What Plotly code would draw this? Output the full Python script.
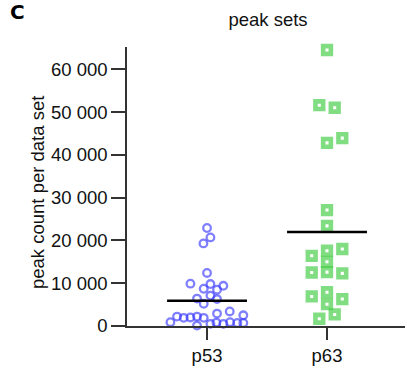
import numpy as np
import plotly.graph_objects as go

# Peak counts per data set for each family of peak sets
categories = ["p53", "p63"]

p53_counts = [22900, 20700, 19300, 12400, 9900, 9800, 9400, 8700, 8500, 7100,
              6400, 6300, 5200, 3400, 2900, 2500, 2200, 1900, 2000, 2200,
              1900, 900, 100, 500, 800, 500, 900, 700, 700]
p63_counts = [64500, 51600, 51000, 43900, 42800, 27100, 23400, 18000, 16400, 17600,
              15000, 12500, 12600, 12300, 7900, 6900, 6300, 5100, 2700, 1700]

y_ticks = [0, 10000, 20000, 30000, 40000, 50000, 60000]
y_tick_labels = ["0", "10 000", "20 000", "30 000", "40 000", "50 000", "60 000"]

# Horizontal swarm offsets (in pixels) so overlapping points spread out
p53_swarm = [0.0, 3.4, -3.6, 0.0, -16.6, 3.4, 16.3, -3.3, 10.0, 3.4,
             -10.0, 10.0, -3.3, 22.7, 10.0, 36.3, -30.0, -23.3, -16.6, -10.0,
             -3.3, -36.6, -10.0, 3.4, 9.4, 16.3, 23.0, 30.3, 36.3]
p63_swarm = [0.0, -7.7, 7.7, 15.3, 0.0, 0.0, 0.0, 15.3, -15.3, 0.0,
             0.0, -15.3, 0.0, 15.3, 0.0, -15.3, 15.3, 0.0, 7.7, -7.7]
PX_PER_CAT = 120.0

FONT = "Liberation Sans, Arial, sans-serif"
FS = 18.5

fig = go.Figure()

fig.add_trace(go.Scatter(
    x=[0 + o / PX_PER_CAT for o in p53_swarm], y=p53_counts,
    mode="markers", name=categories[0], cliponaxis=False,
    marker=dict(symbol="circle-open", size=7.6,
                color="rgba(50,50,255,0.62)",
                line=dict(width=2.3, color="rgba(50,50,255,0.62)")),
))
fig.add_trace(go.Scatter(
    x=[1 + o / PX_PER_CAT for o in p63_swarm], y=p63_counts,
    mode="markers", name=categories[1], cliponaxis=False,
    marker=dict(symbol="square-open", size=7.7,
                color="rgba(70,205,70,0.68)",
                line=dict(width=4.6, color="rgba(70,205,70,0.68)")),
))

# Group means as short horizontal bars
for i, vals in enumerate([p53_counts, p63_counts]):
    m = float(np.mean(vals))
    fig.add_trace(go.Scatter(
        x=[i - 0.333, i + 0.333], y=[m, m], mode="lines",
        line=dict(color="black", width=2.5), cliponaxis=False,
        hoverinfo="skip",
    ))

fig.update_layout(
    width=407, height=369,
    margin=dict(l=127, r=2, t=47, b=43),
    paper_bgcolor="white", plot_bgcolor="white",
    showlegend=False,
    font=dict(family=FONT, size=FS, color="#111111"),
    title=dict(text="peak sets", x=268 / 407, xanchor="center",
               y=1 - 20 / 369, yanchor="middle",
               font=dict(family=FONT, size=FS, color="#111111")),
    xaxis=dict(range=[-0.667, 1.65], tickvals=[0, 1], ticktext=categories,
               showgrid=False, zeroline=False, showline=True,
               linecolor="#333333", linewidth=1.5,
               ticks="outside", ticklen=12, tickwidth=1.5, tickcolor="#333333",
               tickfont=dict(size=FS)),
    yaxis=dict(range=[0, 65200], tickvals=y_ticks, ticktext=y_tick_labels,
               showgrid=False, zeroline=False, showline=True,
               linecolor="#333333", linewidth=1.5,
               ticks="outside", ticklen=14, tickwidth=1.5, tickcolor="#333333",
               tickfont=dict(size=FS)),
    annotations=[
        dict(text="<b>C</b>", xref="paper", yref="paper",
             x=(17 - 127) / 278, y=(326 - 12) / 279,
             xanchor="center", yanchor="middle", showarrow=False,
             font=dict(family="DejaVu Sans, sans-serif", size=20, color="black")),
        dict(text="peak count per data set", xref="paper", yref="paper",
             x=(37 - 127) / 278, y=(326 - 193) / 279, textangle=-90,
             xanchor="center", yanchor="middle", showarrow=False,
             font=dict(family=FONT, size=FS, color="#111111")),
    ],
)

fig.write_html("out.html")
